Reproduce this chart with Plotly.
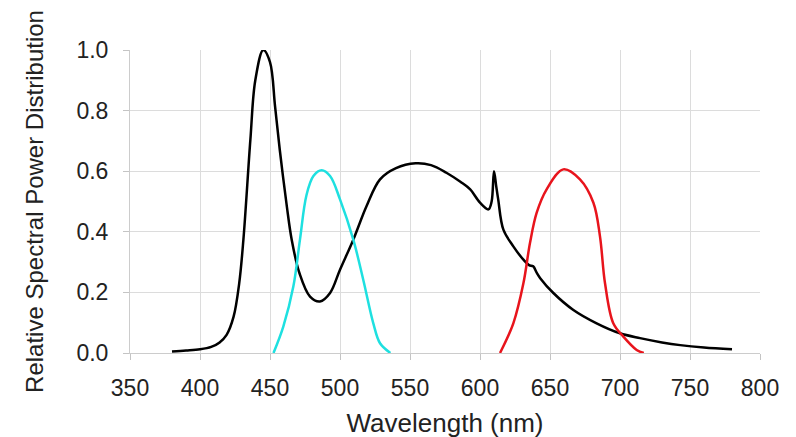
import plotly.graph_objects as go

# Black (white LED) spectrum
black_nm = [380, 390, 400, 408, 414, 419, 424, 428, 431, 436, 439.5, 445.2, 450, 453.6, 457, 462, 465.5, 471, 478.6, 485.7, 492.9, 500, 509.5, 519, 528.6, 540, 554, 565, 576, 586, 593, 600, 606, 608.3, 610, 611.6, 613, 616.7, 623.8, 631, 635, 638, 640.5, 643, 652.4, 666.7, 683.3, 700, 714.3, 730, 743, 760, 780]
black_val = [0.005, 0.008, 0.012, 0.02, 0.035, 0.06, 0.12, 0.23, 0.374, 0.705, 0.90, 1.0, 0.96, 0.815, 0.67, 0.485, 0.374, 0.264, 0.186, 0.17, 0.198, 0.275, 0.374, 0.485, 0.573, 0.61, 0.626, 0.62, 0.595, 0.565, 0.54, 0.496, 0.474, 0.50, 0.60, 0.55, 0.507, 0.407, 0.352, 0.308, 0.29, 0.286, 0.265, 0.247, 0.198, 0.142, 0.098, 0.065, 0.049, 0.035, 0.026, 0.018, 0.012]

# Cyan band
cyan_nm = [452.5, 459.5, 466.7, 471.4, 476, 481, 486.9, 492.9, 500, 509.5, 516.6, 523.8, 528.6, 536]
cyan_val = [0.0, 0.087, 0.22, 0.374, 0.52, 0.584, 0.603, 0.584, 0.507, 0.374, 0.242, 0.098, 0.032, 0.0]

# Red band
red_nm = [614.3, 623.8, 631, 635.7, 640.5, 647.6, 659.5, 671.4, 681, 685.7, 689.3, 695.2, 702.4, 711.9, 717]
red_val = [0.0, 0.098, 0.23, 0.363, 0.463, 0.54, 0.606, 0.573, 0.496, 0.385, 0.23, 0.098, 0.054, 0.01, 0.0]

x_ticks = [350, 400, 450, 500, 550, 600, 650, 700, 750, 800]
y_ticks = [0.0, 0.2, 0.4, 0.6, 0.8, 1.0]

fig = go.Figure()
fig.add_trace(go.Scatter(x=black_nm, y=black_val, mode="lines",
                         line=dict(color="#000000", width=2.5, shape="spline", smoothing=1.0)))
fig.add_trace(go.Scatter(x=cyan_nm, y=cyan_val, mode="lines",
                         line=dict(color="#1ee0e0", width=2.5, shape="spline", smoothing=1.0)))
fig.add_trace(go.Scatter(x=red_nm, y=red_val, mode="lines",
                         line=dict(color="#e8141c", width=2.5, shape="spline", smoothing=1.0)))

font_color = "#222222"
fig.update_layout(
    width=796, height=437,
    margin=dict(l=122, r=44, t=42, b=92),
    paper_bgcolor="white", plot_bgcolor="white",
    showlegend=False,
    font=dict(family="Liberation Sans, Arial, sans-serif", color=font_color, size=23),
)
fig.update_xaxes(
    range=[350, 800], tickvals=x_ticks, ticktext=[str(v) for v in x_ticks],
    showgrid=True, gridcolor="#dcdcdc", gridwidth=1,
    ticks="outside", ticklen=6, tickcolor="#c4c4c4",
    showline=True, linecolor="#cccccc", linewidth=1,
    zeroline=False, ticklabelstandoff=8, automargin=False,
    title=dict(text="Wavelength (nm)", font=dict(size=26), standoff=14),
    tickfont=dict(size=23),
)
fig.update_yaxes(
    range=[0, 1.0], tickvals=y_ticks, ticktext=["%.1f" % v for v in y_ticks],
    showgrid=True, gridcolor="#dcdcdc", gridwidth=1,
    ticks="outside", ticklen=6, tickcolor="#c4c4c4",
    showline=True, linecolor="#cccccc", linewidth=1,
    zeroline=False, ticklabelstandoff=10, automargin=False,
    title=dict(text="Relative Spectral Power Distribution", font=dict(size=24), standoff=26),
    tickfont=dict(size=23),
)
fig.write_html("out.html")
